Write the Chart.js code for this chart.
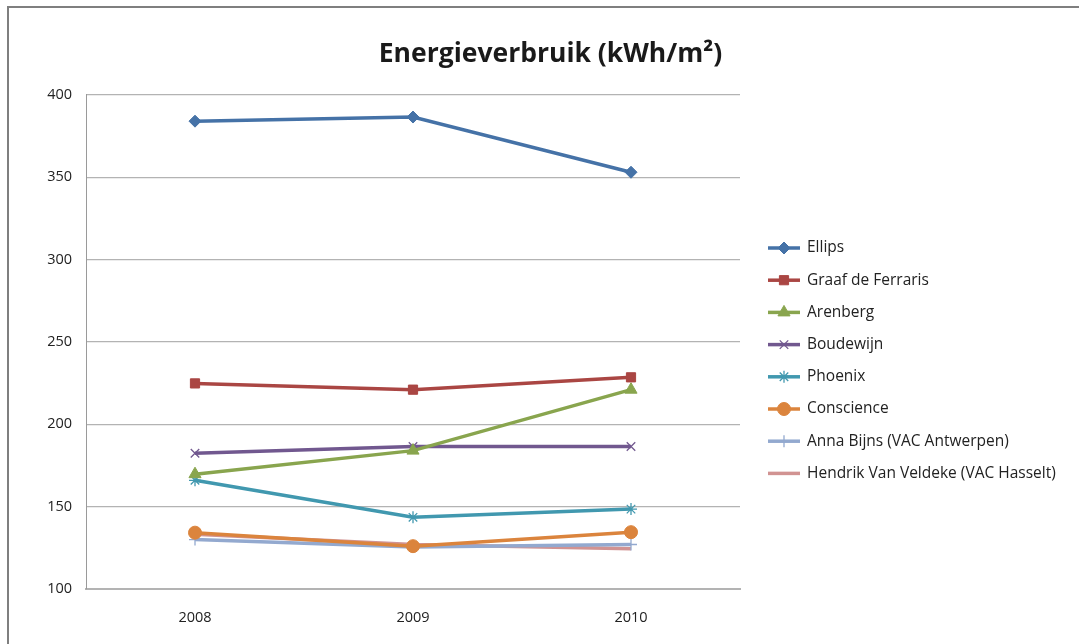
<!DOCTYPE html>
<html>
<head>
<meta charset="utf-8">
<script src="https://cdn.jsdelivr.net/npm/chart.js@4/dist/chart.umd.min.js"></script>
<style>
  html, body { margin: 0; padding: 0; background: #fff; }
  #wrap { position: relative; width: 1079px; height: 644px; overflow: hidden; }
  #frame {
    position: absolute; left: 7px; top: 6px; width: 1100px; height: 700px;
    border-left: 2px solid #7f7f7f; border-top: 2px solid #7f7f7f;
  }
  canvas { position: absolute; left: 0; top: 0; }
</style>
</head>
<body>
<div id="wrap">
  <div id="frame"></div>
  <canvas id="chart" width="1079" height="644"></canvas>
</div>
<script>
var years = ['2008', '2009', '2010'];
var yTicks = [100, 150, 200, 250, 300, 350, 400];

var ellips = [384, 386.5, 353];
var graafDeFerraris = [224.8, 221, 228.5];
var arenberg = [169.7, 184, 221];
var boudewijn = [182.4, 186.5, 186.5];
var phoenix = [166, 143.5, 148.5];
var conscience = [134.2, 126, 134.5];
var annaBijns = [130, 125.5, 127];
var hendrikVanVeldeke = [133.3, 127, 124.5];

var seriesNames = ['Ellips', 'Graaf de Ferraris', 'Arenberg', 'Boudewijn', 'Phoenix',
    'Conscience', 'Anna Bijns (VAC Antwerpen)', 'Hendrik Van Veldeke (VAC Hasselt)'];
var seriesData = [ellips, graafDeFerraris, arenberg, boudewijn, phoenix, conscience, annaBijns, hendrikVanVeldeke];
var colors = ['#4572A7', '#AA4643', '#89A54E', '#71588F', '#4198AF', '#DB843D', '#93A9CF', '#D19392'];
var markers = ['rectRot', 'rect', 'triangle', 'crossRot', 'star', 'circle', 'cross', false];
var markerSizes = [6, 6.5, 7, 6, 6, 6.5, 6, 0];

var datasets = seriesNames.map(function (name, i) {
    var thin = markers[i] === 'crossRot' || markers[i] === 'star' || markers[i] === 'cross';
    return {
        label: name,
        data: seriesData[i],
        borderColor: colors[i],
        backgroundColor: colors[i],
        borderWidth: 3.5,
        pointStyle: markers[i],
        pointRadius: markerSizes[i],
        pointBorderWidth: thin ? 1.3 : 1,
        tension: 0
    };
});

// legend drawn beside the plot: line sample with marker, like the spreadsheet legend
var sideLegend = {
    id: 'sideLegend',
    afterDraw: function (chart) {
        var ctx = chart.ctx;
        var x0 = 768, y0 = 248, step = 32.2;
        ctx.save();
        chart.data.datasets.forEach(function (ds, i) {
            var y = y0 + i * step;
            ctx.strokeStyle = ds.borderColor;
            ctx.lineWidth = 3.5;
            ctx.beginPath();
            ctx.moveTo(x0, y);
            ctx.lineTo(x0 + 32, y);
            ctx.stroke();
            if (ds.pointStyle) {
                ctx.fillStyle = ds.backgroundColor;
                ctx.strokeStyle = ds.borderColor;
                ctx.lineWidth = ds.pointBorderWidth;
                Chart.helpers.drawPoint(ctx, {
                    pointStyle: ds.pointStyle,
                    radius: ds.pointRadius,
                    borderWidth: ds.pointBorderWidth
                }, x0 + 16, y);
            }
            ctx.fillStyle = '#222';
            ctx.font = '15.5px "Open Sans", sans-serif';
            ctx.textBaseline = 'middle';
            ctx.textAlign = 'left';
            ctx.fillText(ds.label, x0 + 39, y);
        });
        ctx.restore();
    }
};

new Chart(document.getElementById('chart'), {
    type: 'line',
    data: { labels: years, datasets: datasets },
    options: {
        responsive: false,
        animation: false,
        layout: { padding: { left: 22, right: 0, top: 0, bottom: 0 } },
        plugins: {
            legend: { display: false },
            tooltip: { enabled: false },
            title: {
                display: true,
                text: 'Energieverbruik (kWh/m²)',
                color: '#1a1a1a',
                font: { family: '"Open Sans", sans-serif', size: 26.5, weight: 'bold', lineHeight: 1.2 },
                padding: { top: 39, bottom: 24 }
            }
        },
        scales: {
            x: {
                offset: true,
                grid: { display: false, drawTicks: false },
                border: { display: true, color: '#b3b3b3', width: 2 },
                ticks: { color: '#222', font: { family: '"Open Sans", sans-serif', size: 14.5 }, padding: 20 },
                afterFit: function (scale) { scale.height = 55; }
            },
            y: {
                min: 100,
                max: 400,
                afterBuildTicks: function (scale) {
                    scale.ticks = yTicks.map(function (v) { return { value: v }; });
                },
                grid: { color: '#b3b3b3', lineWidth: 1.2, drawTicks: false },
                border: { display: true, color: '#9a9a9a', width: 1 },
                ticks: { color: '#222', font: { family: '"Open Sans", sans-serif', size: 14.5 }, padding: 14 },
                afterFit: function (scale) { scale.width = 64; }
            },
            // empty space on the right that holds the legend
            legendSpace: {
                type: 'linear',
                position: 'right',
                grid: { display: false, drawTicks: false },
                border: { display: false },
                ticks: { display: false },
                afterFit: function (scale) { scale.width = 339; }
            }
        }
    },
    plugins: [sideLegend]
});
</script>
</body>
</html>
